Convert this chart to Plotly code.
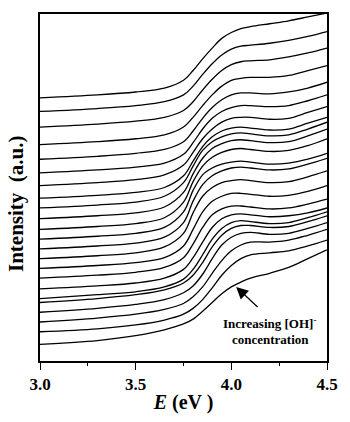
import plotly.graph_objects as go

energy = [3.0, 3.3, 3.5, 3.65, 3.75, 3.8, 3.85, 3.9, 3.95, 4.0, 4.05, 4.1, 4.2, 4.3, 4.4, 4.5]

curve_01 = [270, 273, 276, 280, 288, 298, 310, 321, 331, 337, 341, 343, 346, 349, 353, 357]
curve_02 = [256, 259, 262, 266, 273, 282, 294, 305, 314, 320, 323, 324, 326, 329, 333, 338]
curve_03 = [240, 243, 246, 250, 257, 266, 278, 289, 298, 304, 307, 308, 309, 312, 316, 321]
curve_04 = [222, 225, 228, 232, 240, 250, 262, 273, 282, 288, 290, 291, 291, 293, 298, 303]
curve_05 = [207, 210, 213, 217, 225, 236, 249, 260, 268, 273, 275, 275, 274, 276, 280, 286]
curve_06 = [193, 196, 199, 203, 212, 224, 238, 249, 256, 260, 262, 262, 261, 262, 267, 273]
curve_07 = [180, 183, 186, 191, 201, 214, 228, 238, 245, 249, 250, 250, 248, 249, 255, 261]
curve_08 = [167, 170, 173, 178, 190, 205, 220, 230, 236, 239, 240, 239, 237, 238, 244, 250]
curve_09 = [157, 160, 163, 169, 183, 200, 216, 225, 230, 233, 234, 233, 231, 232, 238, 245]
curve_10 = [146, 149, 152, 158, 173, 192, 208, 218, 223, 226, 227, 226, 224, 225, 231, 238]
curve_11 = [135, 138, 141, 147, 163, 184, 200, 209, 214, 217, 218, 217, 215, 216, 221, 228]
curve_12 = [125, 128, 131, 137, 153, 175, 191, 198, 202, 204, 205, 204, 202, 203, 207, 213]
curve_13 = [115, 118, 121, 127, 142, 164, 181, 190, 195, 198, 199, 198, 196, 197, 202, 208]
curve_14 = [105, 108, 111, 117, 131, 152, 169, 178, 183, 185, 186, 185, 183, 184, 189, 195]
curve_15 = [95, 98, 101, 106, 118, 135, 153, 164, 169, 172, 172, 171, 169, 170, 174, 180]
curve_16 = [85, 88, 91, 96, 106, 120, 137, 150, 156, 159, 159, 158, 156, 157, 161, 166]
curve_17 = [74, 77, 80, 85, 94, 106, 122, 137, 146, 150, 151, 150, 148, 149, 152, 157]
curve_18 = [64, 68, 71, 76, 84, 94, 109, 125, 136, 142, 144, 143, 141, 142, 147, 153]
curve_19 = [60, 64, 68, 73, 80, 88, 101, 117, 129, 136, 139, 139, 137, 138, 143, 149]
curve_20 = [50, 54, 58, 63, 70, 77, 89, 105, 119, 127, 131, 132, 130, 131, 136, 142]
curve_21 = [40, 44, 48, 53, 59, 66, 76, 90, 103, 113, 119, 122, 122, 124, 129, 135]
curve_22 = [30, 33, 37, 42, 48, 54, 63, 75, 88, 98, 105, 109, 111, 113, 118, 124]
curve_23 = [17, 21, 26, 32, 38, 43, 51, 60, 69, 76, 81, 85, 90, 96, 105, 114]

curves = [curve_01, curve_02, curve_03, curve_04, curve_05, curve_06, curve_07, curve_08,
          curve_09, curve_10, curve_11, curve_12, curve_13, curve_14, curve_15, curve_16,
          curve_17, curve_18, curve_19, curve_20, curve_21, curve_22, curve_23]

x_ticks = [3.0, 3.5, 4.0, 4.5]
x_tick_labels = ["3.0", "3.5", "4.0", "4.5"]

FONT = "Liberation Serif, Times New Roman, serif"

fig = go.Figure()
for c in curves:
    fig.add_trace(go.Scatter(x=energy, y=c, mode="lines",
                             line=dict(color="black", width=1.3, shape="spline", smoothing=1.0),
                             showlegend=False, hoverinfo="skip"))

fig.update_layout(
    width=350, height=422,
    margin=dict(l=40, r=13, t=12, b=54),
    paper_bgcolor="white", plot_bgcolor="white",
    font=dict(family=FONT, color="black"),
    xaxis=dict(range=[3.0, 4.5], tickvals=x_ticks, ticktext=x_tick_labels,
               ticks="outside", ticklen=7, tickwidth=1.2, tickcolor="black",
               showline=True, linecolor="black", linewidth=1.5, mirror=True,
               showgrid=False, zeroline=False,
               tickfont=dict(family=FONT, size=17, color="black", weight="bold"),
               minor=dict(dtick=0.25, tick0=3.0, ticks="outside", ticklen=3,
                          tickwidth=1.2, tickcolor="black", showgrid=False),
               title=dict(text="<i>E</i> (eV )", standoff=2,
                          font=dict(family=FONT, size=20, color="black", weight="bold"))),
    yaxis=dict(range=[0, 356], showticklabels=False, ticks="",
               showline=True, linecolor="black", linewidth=1.5, mirror=True,
               showgrid=False, zeroline=False),
)

fig.add_annotation(x=-0.084, y=0.455, xref="paper", yref="paper", showarrow=False,
                   text="<b>Intensity  (a.u.)</b>", textangle=-90,
                   xanchor="center", yanchor="middle",
                   font=dict(family=FONT, size=21, color="black"))
fig.add_annotation(x=4.025, y=76, ax=4.145, ay=54, xref="x", yref="y", axref="x", ayref="y",
                   text="", showarrow=True, arrowhead=2, arrowsize=2.0, arrowwidth=1.2,
                   arrowcolor="black")
fig.add_annotation(x=4.2, y=39, xref="x", yref="y", showarrow=False,
                   text="<b>Increasing [OH]<sup>-</sup></b>",
                   font=dict(family=FONT, size=13, color="black"))
fig.add_annotation(x=4.205, y=22, xref="x", yref="y", showarrow=False,
                   text="<b>concentration</b>",
                   font=dict(family=FONT, size=13, color="black"))

fig.write_html("out.html")
